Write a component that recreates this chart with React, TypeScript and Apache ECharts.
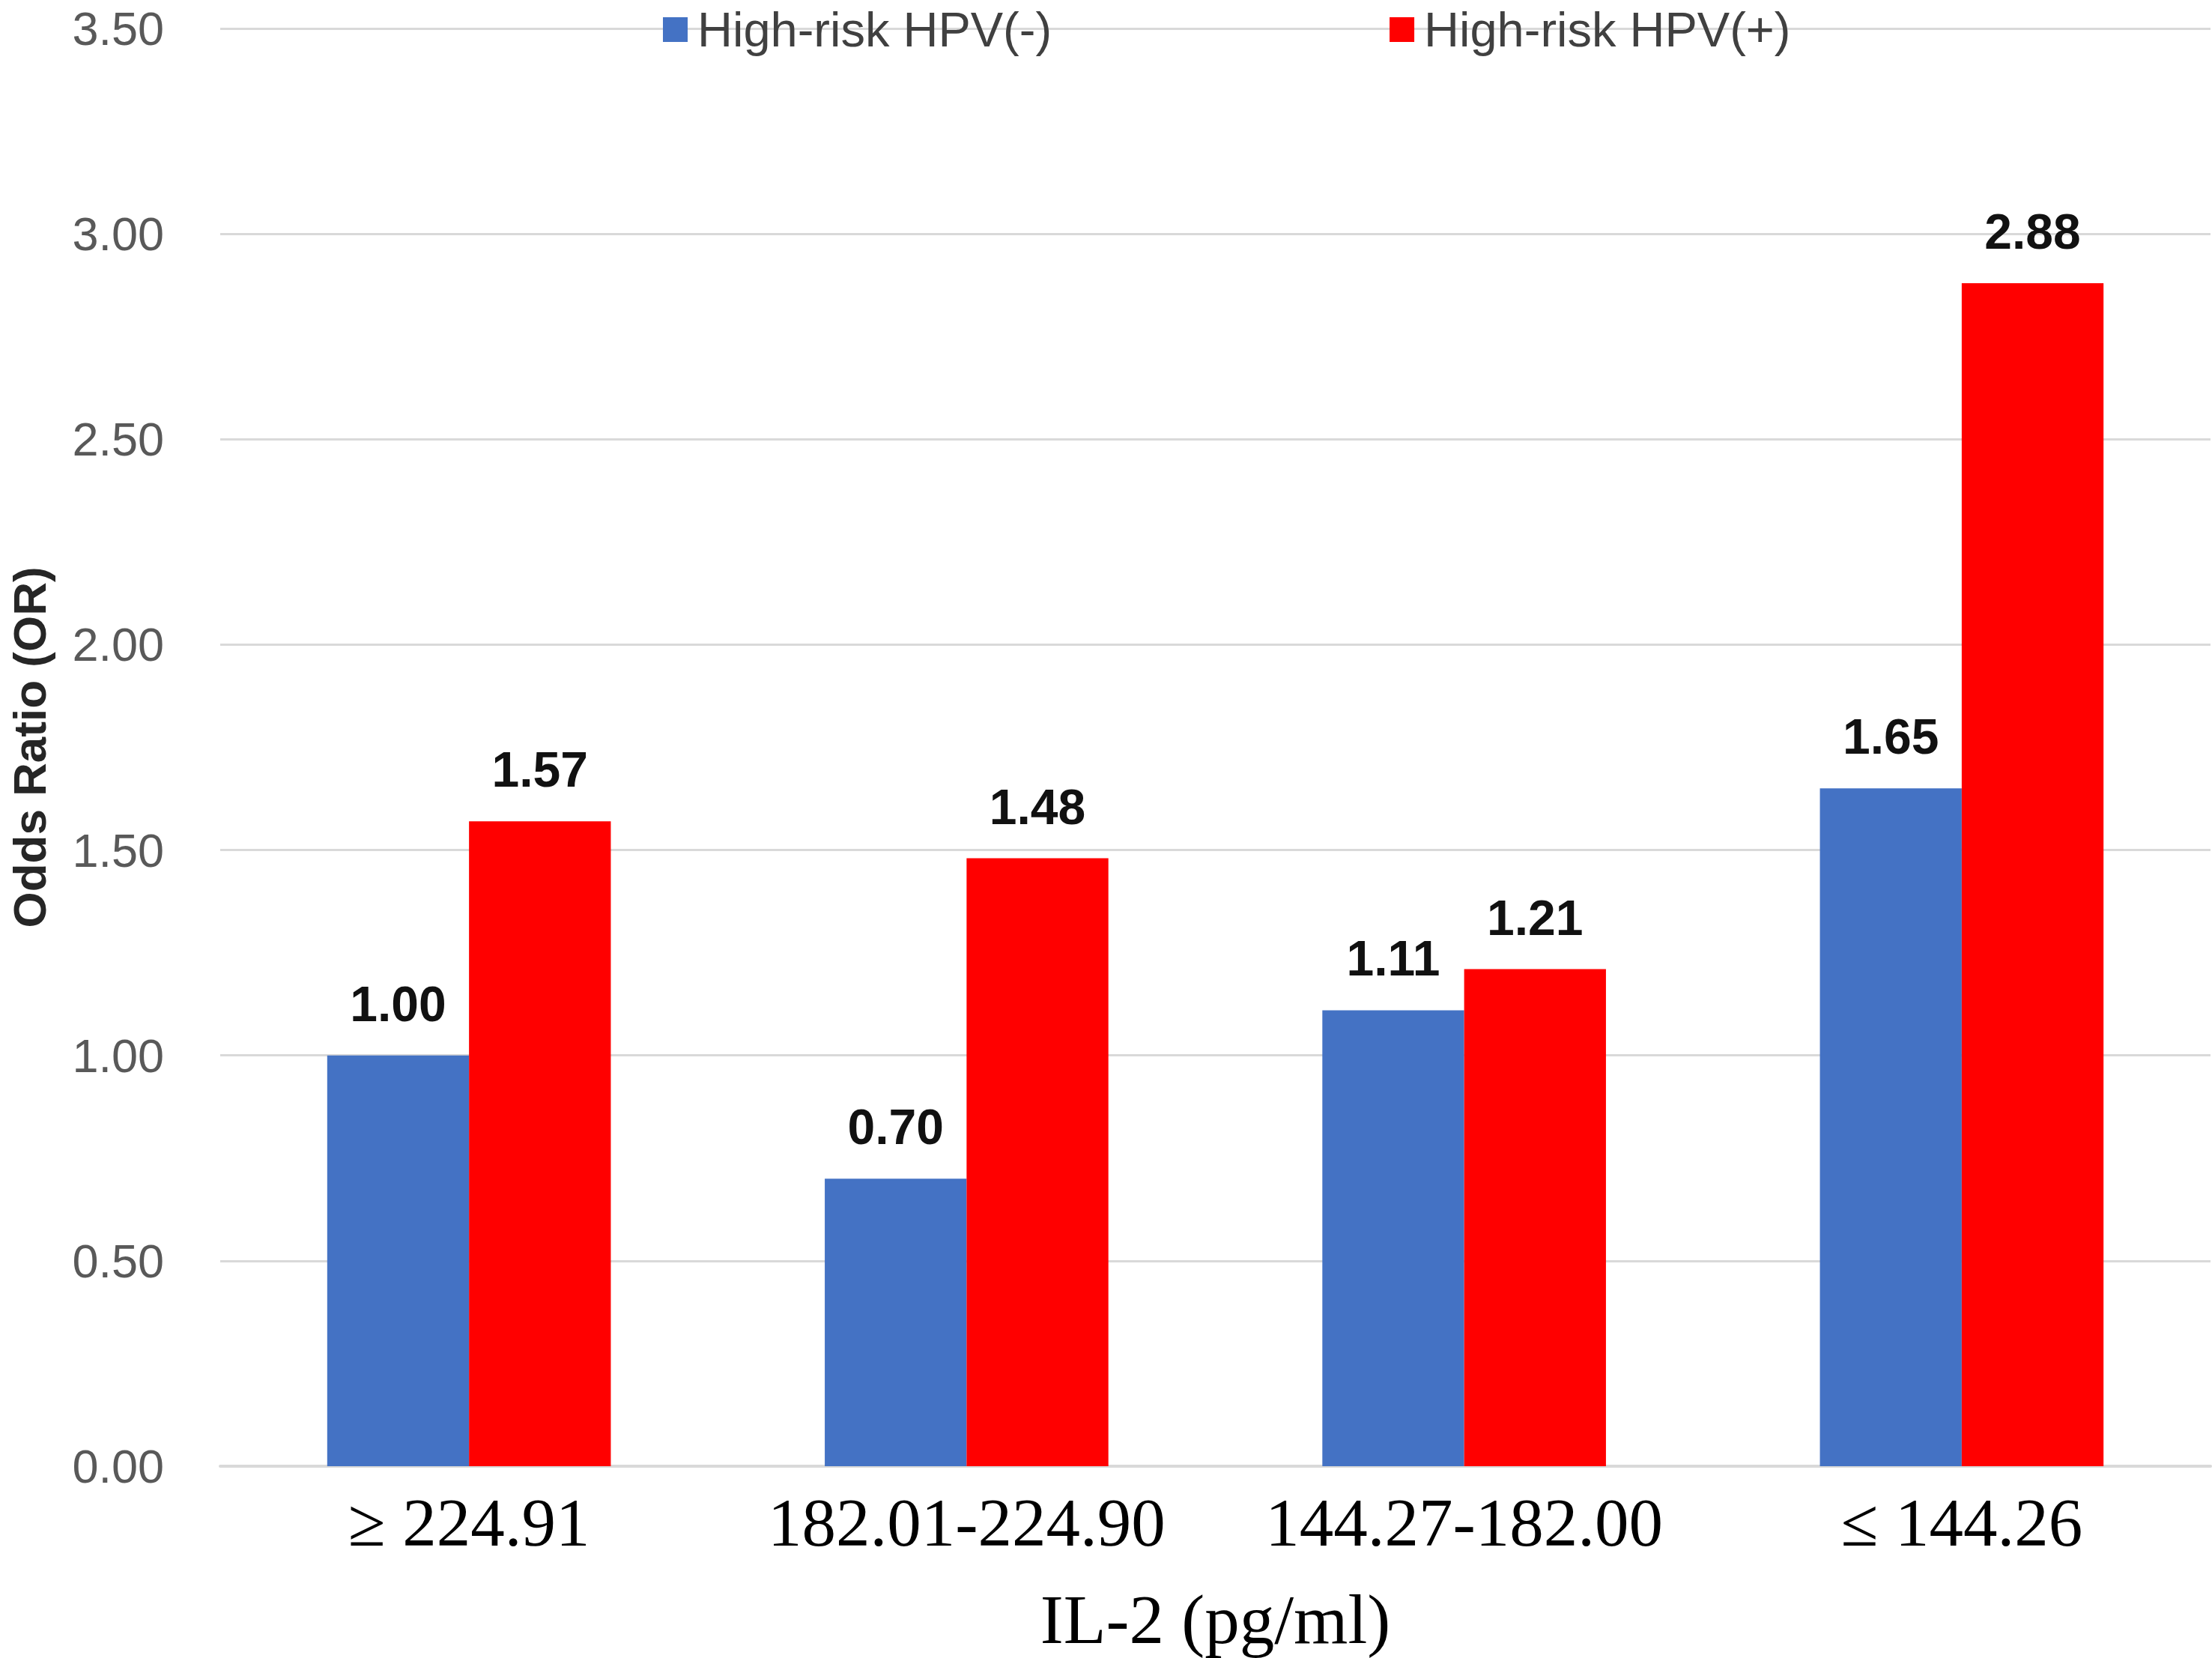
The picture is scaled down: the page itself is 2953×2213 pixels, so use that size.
import React, { useEffect, useRef } from "react";
import * as echarts from "echarts";

const categories = ["≥ 224.91", "182.01-224.90", "144.27-182.00", "≤ 144.26"];
const seriesNames = ["High-risk HPV(-)", "High-risk HPV(+)"];
const hpvNegative = [1.0, 0.7, 1.11, 1.65];
const hpvPositive = [1.57, 1.48, 1.21, 2.88];
const seriesColors = ["#4472C4", "#FF0000"];
const yMin = 0;
const yMax = 3.5;
const yInterval = 0.5;

export default function App() {
  const ref = useRef<HTMLDivElement>(null);
  useEffect(() => {
    if (!ref.current) return;
    const chart = echarts.init(ref.current, undefined, { renderer: "svg" });
    const sans = "'Liberation Sans', Arial, sans-serif";
    const serif = "'Liberation Serif', 'Times New Roman', serif";
    const labelStyle = {
      show: true,
      position: "top" as const,
      distance: 36,
      fontFamily: sans,
      fontWeight: "bold" as const,
      fontSize: 66,
      color: "#111111",
      formatter: (p: any) => Number(p.value).toFixed(2),
    };
    chart.setOption({
      animation: false,
      backgroundColor: "#ffffff",
      legend: {
        data: seriesNames,
        left: 880,
        top: 2,
        itemWidth: 33,
        itemHeight: 33,
        itemGap: 451,
        icon: "rect",
        textStyle: {
          fontFamily: sans,
          fontSize: 65,
          lineHeight: 50,
          color: "#404040",
          padding: [0, 0, 0, 8],
        },
      },
      grid: { left: 291, right: 2, top: 38, bottom: 247, containLabel: false },
      xAxis: {
        type: "category",
        data: categories,
        axisLine: { show: true, lineStyle: { color: "#d9d9d9", width: 4 } },
        axisTick: { show: false },
        axisLabel: {
          fontFamily: serif,
          fontSize: 91,
          color: "#000000",
          margin: 30,
          interval: 0,
        },
        name: "IL-2 (pg/ml)",
        nameLocation: "middle",
        nameGap: 158,
        nameTextStyle: { fontFamily: serif, fontSize: 93, color: "#000000" },
      },
      yAxis: {
        type: "value",
        min: yMin,
        max: yMax,
        interval: yInterval,
        axisLine: { show: false },
        axisTick: { show: false },
        splitLine: { lineStyle: { color: "#d9d9d9", width: 3 } },
        axisLabel: {
          fontFamily: sans,
          fontSize: 63,
          lineHeight: 50,
          color: "#595959",
          margin: 75,
          formatter: (v: number) => v.toFixed(2),
        },
        name: "Odds Ratio (OR)",
        nameLocation: "middle",
        nameGap: 224,
        nameTextStyle: {
          fontFamily: sans,
          fontSize: 62,
          fontWeight: "bold",
          color: "#262626",
        },
      },
      series: [
        {
          name: seriesNames[0],
          type: "bar",
          data: hpvNegative,
          itemStyle: { color: seriesColors[0] },
          barGap: "0%",
          barCategoryGap: "43%",
          label: labelStyle,
        },
        {
          name: seriesNames[1],
          type: "bar",
          data: hpvPositive,
          itemStyle: { color: seriesColors[1] },
          barGap: "0%",
          barCategoryGap: "43%",
          label: labelStyle,
        },
      ],
    });
    return () => chart.dispose();
  }, []);
  return (
    <div
      ref={ref}
      style={{ position: "absolute", left: 0, top: 0, width: 2953, height: 2213, background: "#fff" }}
    />
  );
}
